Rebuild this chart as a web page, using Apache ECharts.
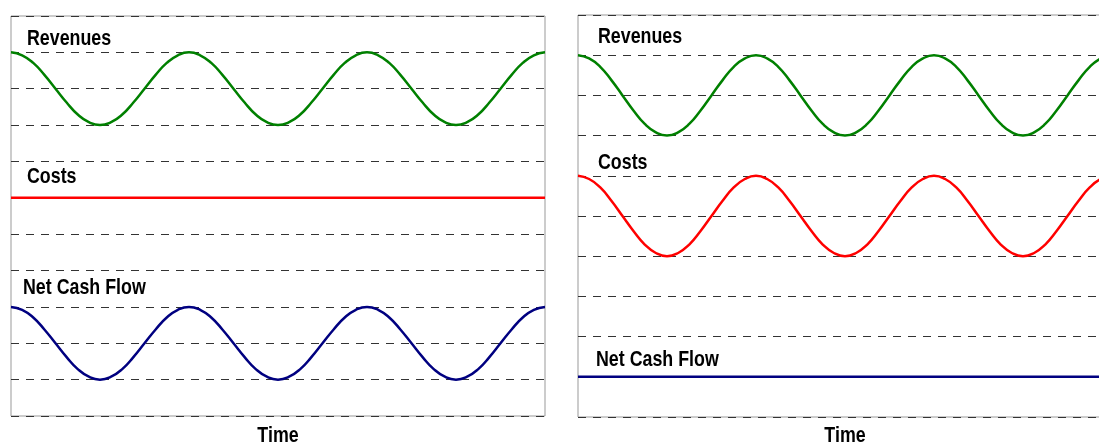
<!DOCTYPE html>
<html>
<head>
<meta charset="utf-8">
<script src="https://cdn.jsdelivr.net/npm/echarts@6/dist/echarts.min.js"></script>
<style>
  html, body { margin: 0; padding: 0; background: #fff; }
  #chart { width: 1099px; height: 445px; }
</style>
</head>
<body>
<div id="chart"></div>
<script>
// time steps (sixteenths of a cycle), 3 cycles per panel
const timeSteps = [
  '0','1','2','3','4','5','6','7','8','9','10','11','12','13','14','15',
  '16','17','18','19','20','21','22','23','24','25','26','27','28','29','30','31',
  '32','33','34','35','36','37','38','39','40','41','42','43','44','45','46','47','48'
];

// left panel: revenues vary, costs flat, net cash flow varies
const revenuesLeft = [
  10, 9.92, 9.71, 9.38, 9, 8.62, 8.29, 8.08, 8, 8.08, 8.29, 8.62, 9, 9.38, 9.71, 9.92,
  10, 9.92, 9.71, 9.38, 9, 8.62, 8.29, 8.08, 8, 8.08, 8.29, 8.62, 9, 9.38, 9.71, 9.92,
  10, 9.92, 9.71, 9.38, 9, 8.62, 8.29, 8.08, 8, 8.08, 8.29, 8.62, 9, 9.38, 9.71, 9.92, 10
];
const costsLeft = [
  6, 6, 6, 6, 6, 6, 6, 6, 6, 6, 6, 6, 6, 6, 6, 6,
  6, 6, 6, 6, 6, 6, 6, 6, 6, 6, 6, 6, 6, 6, 6, 6,
  6, 6, 6, 6, 6, 6, 6, 6, 6, 6, 6, 6, 6, 6, 6, 6, 6
];
const netCashLeft = [
  3, 2.92, 2.71, 2.38, 2, 1.62, 1.29, 1.08, 1, 1.08, 1.29, 1.62, 2, 2.38, 2.71, 2.92,
  3, 2.92, 2.71, 2.38, 2, 1.62, 1.29, 1.08, 1, 1.08, 1.29, 1.62, 2, 2.38, 2.71, 2.92,
  3, 2.92, 2.71, 2.38, 2, 1.62, 1.29, 1.08, 1, 1.08, 1.29, 1.62, 2, 2.38, 2.71, 2.92, 3
];

// right panel: revenues and costs vary together, net cash flow flat
const revenuesRight = [
  9, 8.92, 8.71, 8.38, 8, 7.62, 7.29, 7.08, 7, 7.08, 7.29, 7.62, 8, 8.38, 8.71, 8.92,
  9, 8.92, 8.71, 8.38, 8, 7.62, 7.29, 7.08, 7, 7.08, 7.29, 7.62, 8, 8.38, 8.71, 8.92,
  9, 8.92, 8.71, 8.38, 8, 7.62, 7.29, 7.08, 7, 7.08, 7.29, 7.62, 8, 8.38, 8.71, 8.92, 9
];
const costsRight = [
  6, 5.92, 5.71, 5.38, 5, 4.62, 4.29, 4.08, 4, 4.08, 4.29, 4.62, 5, 5.38, 5.71, 5.92,
  6, 5.92, 5.71, 5.38, 5, 4.62, 4.29, 4.08, 4, 4.08, 4.29, 4.62, 5, 5.38, 5.71, 5.92,
  6, 5.92, 5.71, 5.38, 5, 4.62, 4.29, 4.08, 4, 4.08, 4.29, 4.62, 5, 5.38, 5.71, 5.92, 6
];
const netCashRight = [
  1, 1, 1, 1, 1, 1, 1, 1, 1, 1, 1, 1, 1, 1, 1, 1,
  1, 1, 1, 1, 1, 1, 1, 1, 1, 1, 1, 1, 1, 1, 1, 1,
  1, 1, 1, 1, 1, 1, 1, 1, 1, 1, 1, 1, 1, 1, 1, 1, 1
];

const yMaxLeft = 11;
const yMaxRight = 10;

const FONT = '"Liberation Sans", Arial, sans-serif';
const NARROW = 0.81; // squeeze to look like a narrow face

const chart = echarts.init(document.getElementById('chart'));

function xAxisFor(gridIndex) {
  return {
    type: 'category',
    gridIndex: gridIndex,
    data: timeSteps,
    boundaryGap: false,
    axisLine: { show: false },
    axisTick: { show: false },
    axisLabel: { show: false },
    splitLine: { show: false }
  };
}

function yAxisFor(gridIndex, max) {
  return {
    type: 'value',
    gridIndex: gridIndex,
    min: 0,
    max: max,
    interval: 1,
    axisLine: { show: false },
    axisTick: { show: false },
    axisLabel: { show: false },
    splitLine: {
      show: true,
      lineStyle: { color: '#333', width: 1, type: [8, 7] }
    }
  };
}

function lineSeries(name, data, color, idx, smooth) {
  return {
    name: name,
    type: 'line',
    xAxisIndex: idx,
    yAxisIndex: idx,
    data: data,
    smooth: smooth,
    symbol: 'none',
    lineStyle: { color: color, width: 2.5 },
    itemStyle: { color: color }
  };
}

// bold text, squeezed horizontally
function label(text, x, y, align) {
  return {
    type: 'text',
    x: x,
    y: y,
    scaleX: NARROW,
    style: {
      text: text,
      x: 0,
      y: 0,
      font: 'bold 22px ' + FONT,
      fill: '#000',
      align: align || 'left',
      verticalAlign: 'middle'
    }
  };
}

const option = {
  animation: false,
  backgroundColor: '#fff',
  grid: [
    { left: 11, top: 16, width: 534, height: 400, show: true, borderColor: '#999', borderWidth: 1, outerBoundsMode: 'none' },
    { left: 578, top: 15, right: -13, height: 402, show: true, borderColor: '#999', borderWidth: 1, outerBoundsMode: 'none' }
  ],
  xAxis: [xAxisFor(0), xAxisFor(1)],
  yAxis: [yAxisFor(0, yMaxLeft), yAxisFor(1, yMaxRight)],
  series: [
    lineSeries('Revenues', revenuesLeft, '#008000', 0, true),
    lineSeries('Costs', costsLeft, '#ff0000', 0, false),
    lineSeries('Net Cash Flow', netCashLeft, '#000080', 0, true),
    lineSeries('Revenues', revenuesRight, '#008000', 1, true),
    lineSeries('Costs', costsRight, '#ff0000', 1, true),
    lineSeries('Net Cash Flow', netCashRight, '#000080', 1, false)
  ],
  graphic: [
    label('Revenues', 27, 39),
    label('Costs', 27, 177),
    label('Net Cash Flow', 23, 288),
    label('Revenues', 598, 37),
    label('Costs', 598, 163),
    label('Net Cash Flow', 596, 360),
    label('Time', 278, 436, 'center'),
    label('Time', 845, 436, 'center')
  ]
};

chart.setOption(option);
window.addEventListener('resize', () => chart.resize());
</script>
</body>
</html>
